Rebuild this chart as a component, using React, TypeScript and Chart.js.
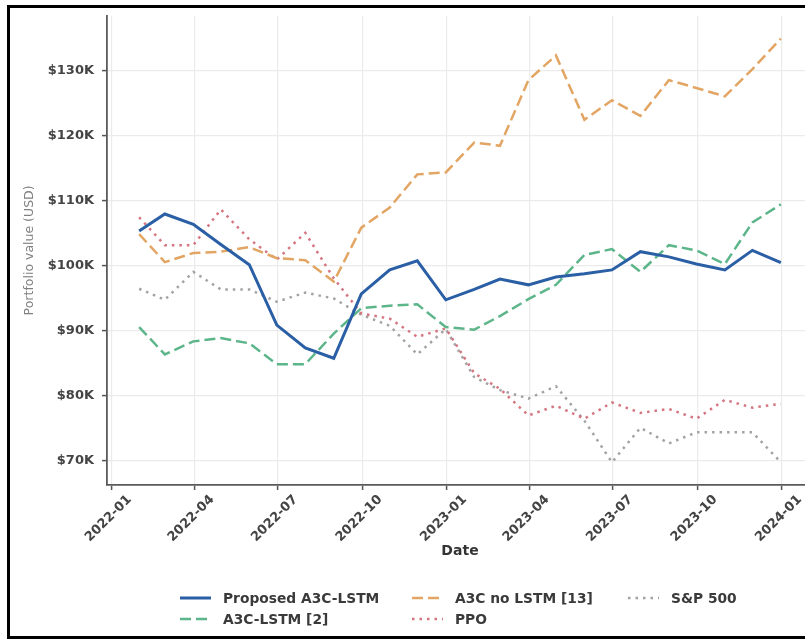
import React, { useEffect, useRef } from "react";
import { Chart, registerables } from "chart.js";

Chart.register(...registerables);

// Month-end observation dates
const dates = [
  "2022-01-31", "2022-02-28", "2022-03-31", "2022-04-30", "2022-05-31", "2022-06-30",
  "2022-07-31", "2022-08-31", "2022-09-30", "2022-10-31", "2022-11-30", "2022-12-31",
  "2023-01-31", "2023-02-28", "2023-03-31", "2023-04-30", "2023-05-31", "2023-06-30",
  "2023-07-31", "2023-08-31", "2023-09-30", "2023-10-31", "2023-11-30", "2023-12-31",
];

// Portfolio values in USD
const proposedA3cLstm = [
  105300, 107900, 106300, 103200, 100100, 90800, 87300, 85700, 95600, 99300, 100700, 94700,
  96300, 97900, 97000, 98200, 98700, 99300, 102100, 101300, 100200, 99300, 102300, 100400,
];
const a3cLstmRef = [
  90500, 86300, 88300, 88800, 88000, 84800, 84800, 89500, 93400, 93800, 94000, 90500,
  90100, 92200, 94800, 97000, 101600, 102500, 99000, 103100, 102300, 100200, 106600, 109400,
];
const a3cNoLstm = [
  104800, 100500, 101900, 102100, 102800, 101100, 100800, 97500, 105800, 108900, 114000, 114300,
  118900, 118400, 128500, 132300, 122400, 125400, 123000, 128500, 127300, 126000, 130200, 134900,
];
const ppo = [
  107400, 103100, 103100, 108600, 104000, 100900, 105000, 98000, 92600, 91800, 89000, 90300,
  83400, 81000, 76900, 78400, 76400, 78900, 77300, 77900, 76400, 79300, 78100, 78700,
];
const sp500 = [
  96400, 94700, 99000, 96300, 96300, 94400, 95800, 94900, 92400, 90700, 86300, 90200,
  82800, 80800, 79500, 81400, 76100, 69700, 75000, 72600, 74300, 74300, 74300, 69700,
];

// Axis ticks
const xTickLabels = [
  "2022-01", "2022-04", "2022-07", "2022-10", "2023-01", "2023-04", "2023-07", "2023-10", "2024-01",
];
const yTickValues = [70000, 80000, 90000, 100000, 110000, 120000, 130000];
const xRange = ["2021-12-27", "2024-02-04"];
const yRange = [66200, 138400];

// Days since 2022-01-01 for "YYYY-MM" or "YYYY-MM-DD"
const dayNum = (s: string) => {
  const y = +s.slice(0, 4);
  const m = +s.slice(5, 7) - 1;
  const d = s.length > 7 ? +s.slice(8, 10) : 1;
  return (Date.UTC(y, m, d) - Date.UTC(2022, 0, 1)) / 86400000;
};

const series = (vals: number[]) => vals.map((v, i) => ({ x: dayNum(dates[i]), y: v }));

const FONT = "'DejaVu Sans', 'Liberation Sans', sans-serif";

// Legend laid out in three columns, two rows (column-major order)
const gridLegend = {
  id: "gridLegend",
  afterDraw(chart: any) {
    const ctx = chart.ctx as CanvasRenderingContext2D;
    const colX = [180, 412, 628];
    const rowY = [598, 619];
    chart.data.datasets.forEach((ds: any, i: number) => {
      const x = colX[Math.floor(i / 2)];
      const y = rowY[i % 2];
      ctx.save();
      ctx.strokeStyle = ds.borderColor;
      ctx.lineWidth = ds.borderWidth;
      ctx.setLineDash(ds.borderDash || []);
      ctx.beginPath();
      ctx.moveTo(x, y);
      ctx.lineTo(x + 31, y);
      ctx.stroke();
      ctx.setLineDash([]);
      ctx.fillStyle = "#3a3a3a";
      ctx.font = `bold 13.8px ${FONT}`;
      ctx.textBaseline = "middle";
      ctx.textAlign = "left";
      ctx.fillText(ds.label, x + 43, y + 1);
      ctx.restore();
    });
  },
};

export default function App() {
  const canvasRef = useRef<HTMLCanvasElement | null>(null);

  useEffect(() => {
    if (!canvasRef.current) return;
    const line = (label: string, data: number[], color: string, width: number, dash: number[]) => ({
      label,
      data: series(data),
      borderColor: color,
      backgroundColor: color,
      borderWidth: width,
      borderDash: dash,
      pointRadius: 0,
      tension: 0,
      fill: false,
    });

    const chart = new Chart(canvasRef.current, {
      type: "line",
      data: {
        datasets: [
          line("Proposed A3C-LSTM", proposedA3cLstm, "#2a5fa6", 3, []),
          line("A3C-LSTM [2]", a3cLstmRef, "#5db58a", 2.5, [11, 5]),
          line("A3C no LSTM [13]", a3cNoLstm, "#e3a563", 2.5, [11, 5]),
          line("PPO", ppo, "#d4757f", 2.5, [2.5, 5]),
          line("S&P 500", sp500, "#a3a3a3", 2.5, [2.5, 5]),
        ],
      },
      options: {
        animation: false,
        responsive: false,
        devicePixelRatio: 1,
        layout: { padding: { left: 0, top: 12, right: 17, bottom: 79 } },
        plugins: {
          legend: { display: false },
          tooltip: { enabled: false },
        },
        scales: {
          x: {
            type: "linear",
            min: dayNum(xRange[0]),
            max: dayNum(xRange[1]),
            afterBuildTicks: (scale: any) => {
              scale.ticks = xTickLabels.map((t) => ({ value: dayNum(t) }));
            },
            afterFit: (scale: any) => {
              scale.height = 75;
            },
            ticks: {
              autoSkip: false,
              minRotation: 45,
              maxRotation: 45,
              labelOffset: 18,
              padding: 2,
              color: "#444",
              font: { family: FONT, size: 13, weight: "bold" },
              callback: (_v: any, i: number) => xTickLabels[i],
            },
            grid: {
              color: "#ebebeb",
              lineWidth: 1.2,
              tickColor: "#555",
              tickLength: 5,
              tickWidth: 1.5,
            },
            border: { color: "#5a5a5a", width: 1.8 },
            title: {
              display: true,
              text: "Date",
              color: "#333",
              font: { family: FONT, size: 14, weight: "bold" },
              padding: { top: 0, bottom: 0 },
            },
          },
          y: {
            type: "linear",
            min: yRange[0],
            max: yRange[1],
            afterBuildTicks: (scale: any) => {
              scale.ticks = yTickValues.map((v) => ({ value: v }));
            },
            afterFit: (scale: any) => {
              scale.width = 107;
            },
            ticks: {
              padding: 8,
              color: "#444",
              font: { family: FONT, size: 13, weight: "bold" },
              callback: (v: any) => `$${Math.round(Number(v) / 1000)}K`,
            },
            grid: {
              color: "#ebebeb",
              lineWidth: 1.2,
              tickColor: "#555",
              tickLength: 5,
              tickWidth: 1.5,
            },
            border: { color: "#5a5a5a", width: 1.8 },
            title: {
              display: true,
              text: "Portfolio value (USD)",
              color: "#808080",
              font: { family: FONT, size: 12.5, weight: "normal" },
              padding: { top: 22, bottom: 0 },
            },
          },
        },
      },
      plugins: [gridLegend],
    } as any);

    return () => chart.destroy();
  }, []);

  return (
    <div style={{ position: "fixed", left: 0, top: 0, width: 805, height: 639, overflow: "hidden", background: "#fff" }}>
      <canvas ref={canvasRef} width={830} height={639} style={{ position: "absolute", left: 0, top: 0, width: 830, height: 639 }} />
      <div
        style={{
          position: "absolute",
          left: 7,
          top: 5,
          width: 900,
          height: 634,
          boxSizing: "border-box",
          border: "3px solid #000",
          pointerEvents: "none",
        }}
      />
    </div>
  );
}
